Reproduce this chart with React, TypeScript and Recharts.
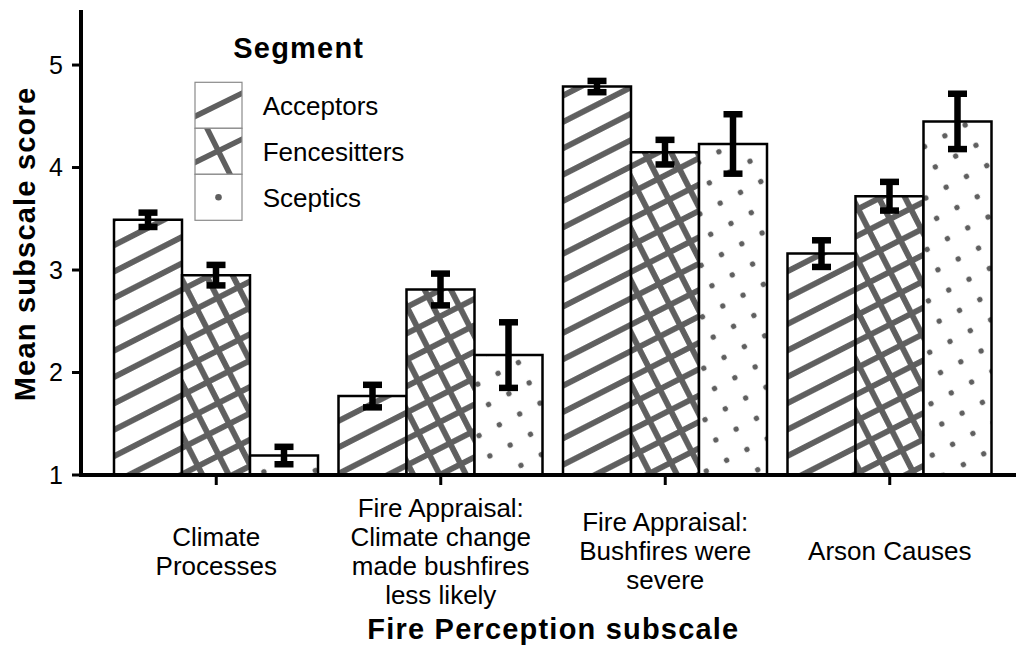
import React from 'react';
import { BarChart, Bar, XAxis, YAxis, ErrorBar, Legend } from 'recharts';

const FONT = '"Liberation Sans", Arial, Helvetica, sans-serif';

const categories = [
  'Climate\nProcesses',
  'Fire Appraisal:\nClimate change\nmade bushfires\nless likely',
  'Fire Appraisal:\nBushfires were\nsevere',
  'Arson Causes',
];
const acceptors = [3.49, 1.77, 4.79, 3.16];
const acceptorsErr = [0.07, 0.11, 0.055, 0.13];
const fencesitters = [2.95, 2.81, 4.15, 3.72];
const fencesittersErr = [0.1, 0.155, 0.12, 0.14];
const sceptics = [1.19, 2.17, 4.23, 4.45];
const scepticsErr = [0.085, 0.32, 0.29, 0.27];
const segments = ['Acceptors', 'Fencesitters', 'Sceptics'];
const yTicks = [1, 2, 3, 4, 5];
const yDomain = [1, 5.537];

const data = categories.map((name, i) => ({
  name,
  acceptors: acceptors[i],
  acceptorsErr: acceptorsErr[i],
  fencesitters: fencesitters[i],
  fencesittersErr: fencesittersErr[i],
  sceptics: sceptics[i],
  scepticsErr: scepticsErr[i],
}));

const STRIPE = '#5f5f5f';

const XTick = (props: any) => {
  const { x, y, payload } = props;
  const lines = String(payload.value).split('\n');
  const n = lines.length;
  const center = y + 64;
  return (
    <g>
      {lines.map((l, i) => (
        <text
          key={i}
          x={x}
          y={center + (i - (n - 1) / 2) * 29 + 9.3}
          textAnchor="middle"
          fontSize={26}
          fill="#000"
          fontFamily={FONT}
        >
          {l}
        </text>
      ))}
    </g>
  );
};

const LegendContent = () => {
  const boxW = 47;
  const boxH = 46;
  const bx = 5;
  const tops = [57.3, 103.3, 149.3];
  return (
    <svg width={220} height={210} style={{ overflow: 'visible', display: 'block' }}>
      <defs>
        {tops.map((t, i) => (
          <clipPath id={`legclip${i}`} key={i}>
            <rect x={bx} y={t} width={boxW} height={boxH} />
          </clipPath>
        ))}
      </defs>
      <text x={43.3} y={33.3} fontSize={29} fontWeight="bold" fontFamily={FONT} letterSpacing={1.2} fill="#000">
        Segment
      </text>
      {segments.map((s, i) => {
        const t = tops[i];
        return (
          <g key={s}>
            <rect x={bx} y={t} width={boxW} height={boxH} fill="#fff" />
            <g clipPath={`url(#legclip${i})`}>
              {i < 2 && (
                <line x1={bx - 2} y1={t + 35} x2={bx + boxW + 2} y2={t + 10} stroke={STRIPE} strokeWidth={5.5} />
              )}
              {i === 1 && (
                <line x1={bx + 11} y1={t - 2} x2={bx + 36} y2={t + boxH + 2} stroke={STRIPE} strokeWidth={5.5} />
              )}
              {i === 2 && <circle cx={bx + boxW / 2} cy={t + boxH / 2} r={3.3} fill={STRIPE} />}
            </g>
            <rect x={bx} y={t} width={boxW} height={boxH} fill="none" stroke="#8a8a8a" strokeWidth={1.2} />
            <text
              x={72.7}
              y={t + boxH / 2 + 9.3}
              fontSize={26}
              fontFamily={FONT}
              fill="#000"
            >
              {s}
            </text>
          </g>
        );
      })}
    </svg>
  );
};

export default function App() {
  return (
    <div style={{ position: 'absolute', left: 0, top: 0, fontFamily: FONT, background: '#fff' }}>
      <BarChart
        width={1016}
        height={649}
        data={data}
        margin={{ top: 10, right: 0, bottom: 0, left: 0 }}
        barGap={0}
        barSize={68}
      >
        <defs>
          <pattern id="patA" patternUnits="userSpaceOnUse" width={23.5} height={23.5} patternTransform="rotate(-27)">
            <rect width={23.5} height={23.5} fill="#fff" />
            <line x1={0} y1={11.75} x2={23.5} y2={11.75} stroke={STRIPE} strokeWidth={5.8} />
          </pattern>
          <pattern id="patF" patternUnits="userSpaceOnUse" width={23.5} height={23.5} patternTransform="rotate(-27)">
            <rect width={23.5} height={23.5} fill="#fff" />
            <line x1={0} y1={11.75} x2={23.5} y2={11.75} stroke={STRIPE} strokeWidth={5.8} />
            <line x1={11.75} y1={0} x2={11.75} y2={23.5} stroke={STRIPE} strokeWidth={5.8} />
          </pattern>
          <pattern id="patS" patternUnits="userSpaceOnUse" width={23} height={23} patternTransform="rotate(-28)">
            <rect width={23} height={23} fill="#fff" />
            <circle cx={11.5} cy={11.5} r={2.7} fill={STRIPE} />
          </pattern>
        </defs>
        <XAxis
          dataKey="name"
          height={174}
          padding={{ left: 23, right: 14 }}
          axisLine={{ stroke: '#000', strokeWidth: 4, strokeLinecap: 'square' }}
          tickLine={{ stroke: '#000', strokeWidth: 3 }}
          tickSize={10}
          interval={0}
          tick={<XTick />}
          label={{
            content: (p: any) => (
              <text
                x={553.4}
                y={639}
                textAnchor="middle"
                fontSize={29}
                fontWeight="bold"
                fontFamily={FONT}
                letterSpacing={1.2}
                fill="#000"
              >
                Fire Perception subscale
              </text>
            ),
          }}
        />
        <YAxis
          type="number"
          domain={yDomain}
          ticks={yTicks}
          allowDataOverflow
          width={81}
          axisLine={{ stroke: '#000', strokeWidth: 4 }}
          tickLine={{ stroke: '#000', strokeWidth: 3 }}
          tickSize={9}
          tickMargin={9}
          tick={{ fontSize: 25, fill: '#000', fontFamily: FONT }}
          label={{
            content: (p: any) => (
              <text
                x={35}
                y={244}
                transform="rotate(-90 35 244)"
                textAnchor="middle"
                fontSize={29}
                fontWeight="bold"
                fontFamily={FONT}
                letterSpacing={1.2}
                fill="#000"
              >
                Mean subscale score
              </text>
            ),
          }}
        />
        <Legend
          layout="horizontal"
          verticalAlign="middle"
          align="center"
          content={<LegendContent />}
          wrapperStyle={{ position: 'absolute', left: 190, top: 25, width: 220, height: 210, pointerEvents: 'none' }}
        />
        <Bar dataKey="acceptors" name="Acceptors" fill="url(#patA)" stroke="#000" strokeWidth={2.5} isAnimationActive={false}>
          <ErrorBar dataKey="acceptorsErr" width={9.5} strokeWidth={6.5} stroke="#000" direction="y" isAnimationActive={false} />
        </Bar>
        <Bar dataKey="fencesitters" name="Fencesitters" fill="url(#patF)" stroke="#000" strokeWidth={2.5} isAnimationActive={false}>
          <ErrorBar dataKey="fencesittersErr" width={9.5} strokeWidth={6.5} stroke="#000" direction="y" isAnimationActive={false} />
        </Bar>
        <Bar dataKey="sceptics" name="Sceptics" fill="url(#patS)" stroke="#000" strokeWidth={2.5} isAnimationActive={false}>
          <ErrorBar dataKey="scepticsErr" width={9.5} strokeWidth={6.5} stroke="#000" direction="y" isAnimationActive={false} />
        </Bar>
      </BarChart>
    </div>
  );
}
